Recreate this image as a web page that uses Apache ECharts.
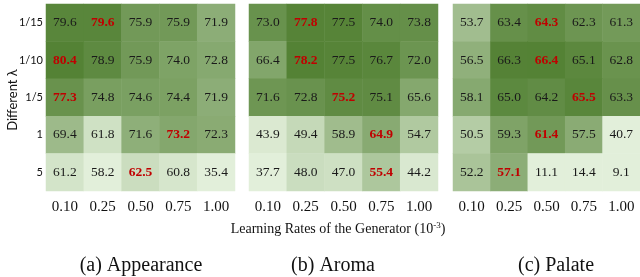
<!DOCTYPE html>
<html>
<head>
<meta charset="utf-8">
<script src="https://cdn.jsdelivr.net/npm/echarts@6/dist/echarts.min.js"></script>
<style>
  html, body { margin: 0; padding: 0; background: #fff; }
  #main { width: 640px; height: 277px; }
</style>
</head>
<body>
<div id="main"></div>
<script>
// 学习率 (x) 和 lambda (y)
const rates = ['0.10', '0.25', '0.50', '0.75', '1.00'];
const lambdas = ['1/15', '1/10', '1/5', '1', '5'];

// 每行从上到下
const appearance = [
  [79.6, 79.6, 75.9, 75.9, 71.9],
  [80.4, 78.9, 75.9, 74.0, 72.8],
  [77.3, 74.8, 74.6, 74.4, 71.9],
  [69.4, 61.8, 71.6, 73.2, 72.3],
  [61.2, 58.2, 62.5, 60.8, 35.4]
];
const aroma = [
  [73.0, 77.8, 77.5, 74.0, 73.8],
  [66.4, 78.2, 77.5, 76.7, 72.0],
  [71.6, 72.8, 75.2, 75.1, 65.6],
  [43.9, 49.4, 58.9, 64.9, 54.7],
  [37.7, 48.0, 47.0, 55.4, 44.2]
];
const palate = [
  [53.7, 63.4, 64.3, 62.3, 61.3],
  [56.5, 66.3, 66.4, 65.1, 62.8],
  [58.1, 65.0, 64.2, 65.5, 63.3],
  [50.5, 59.3, 61.4, 57.5, 40.7],
  [52.2, 57.1, 11.1, 14.4, 9.1]
];
// 每行标红的列
const bestAppearance = [1, 0, 0, 3, 2];
const bestAroma = [1, 1, 2, 3, 3];
const bestPalate = [2, 2, 3, 2, 1];

const captions = ['(a) Appearance', '(b) Aroma', '(c) Palate'];
const colorRange = [[59, 80.4], [42, 78.2], [43, 66.4]];

const panels = [
  { values: appearance, best: bestAppearance },
  { values: aroma, best: bestAroma },
  { values: palate, best: bestPalate }
];
const lefts = [46, 249, 453];
const serif = '"Liberation Serif", "Times New Roman", serif';
const sans = 'Lato, "Open Sans", sans-serif';

const chart = echarts.init(document.getElementById('main'));

const grids = [], xAxes = [], yAxes = [], series = [], visualMaps = [];
panels.forEach(function (p, i) {
  grids.push({ left: lefts[i], top: 4, width: 189, height: 187 });
  xAxes.push({
    type: 'category', gridIndex: i, data: rates,
    axisLine: { show: false }, axisTick: { show: false }, splitLine: { show: false },
    axisLabel: { margin: 9, fontFamily: serif, fontSize: 15, color: '#111' }
  });
  yAxes.push({
    type: 'category', gridIndex: i, data: lambdas, inverse: true,
    axisLine: { show: false }, axisTick: { show: false }, splitLine: { show: false },
    axisLabel: { show: i === 0, margin: 3, fontFamily: sans, fontSize: 11, color: '#111' }
  });
  const data = [];
  p.values.forEach(function (row, r) {
    row.forEach(function (v, c) {
      data.push({ value: [c, r, v], best: p.best[r] === c });
    });
  });
  series.push({
    type: 'heatmap', xAxisIndex: i, yAxisIndex: i, data: data,
    itemStyle: { borderWidth: 0 },
    emphasis: { disabled: true },
    label: {
      show: true,
      formatter: function (params) {
        const t = params.value[2].toFixed(1);
        return params.data.best ? '{b|' + t + '}' : '{n|' + t + '}';
      },
      rich: {
        n: { fontFamily: serif, fontSize: 13.5, color: '#1a1a1a' },
        b: { fontFamily: serif, fontSize: 13.5, color: '#c00000', fontWeight: 'bold' }
      }
    }
  });
  visualMaps.push({
    type: 'continuous', show: false, seriesIndex: i, dimension: 2,
    min: colorRange[i][0], max: colorRange[i][1],
    inRange: { color: ['#e2efda', '#548235'] }
  });
});

const graphics = [
  {
    type: 'text', x: 13, y: 100, rotation: Math.PI / 2,
    style: { text: 'Different λ', fontFamily: sans, fontSize: 13, fill: '#111', align: 'center', verticalAlign: 'middle' }
  },
  {
    type: 'text', x: 338, y: 229,
    style: {
      text: '{n|Learning Rates of the Generator (10}{s|-3}{n|)}',
      align: 'center', verticalAlign: 'middle',
      rich: {
        n: { fontFamily: serif, fontSize: 14, fill: '#111', lineHeight: 16 },
        s: { fontFamily: serif, fontSize: 9, fill: '#111', verticalAlign: 'top', lineHeight: 16, padding: [0, 0, 8, 0] }
      }
    }
  }
];
const capX = [141, 333, 556];
captions.forEach(function (c, i) {
  graphics.push({
    type: 'text', x: capX[i], y: 266,
    style: { text: c, fontFamily: serif, fontSize: 20, fill: '#111', align: 'center', verticalAlign: 'middle' }
  });
});

chart.setOption({
  animation: false,
  grid: grids,
  xAxis: xAxes,
  yAxis: yAxes,
  visualMap: visualMaps,
  series: series,
  graphic: graphics
});
</script>
</body>
</html>
